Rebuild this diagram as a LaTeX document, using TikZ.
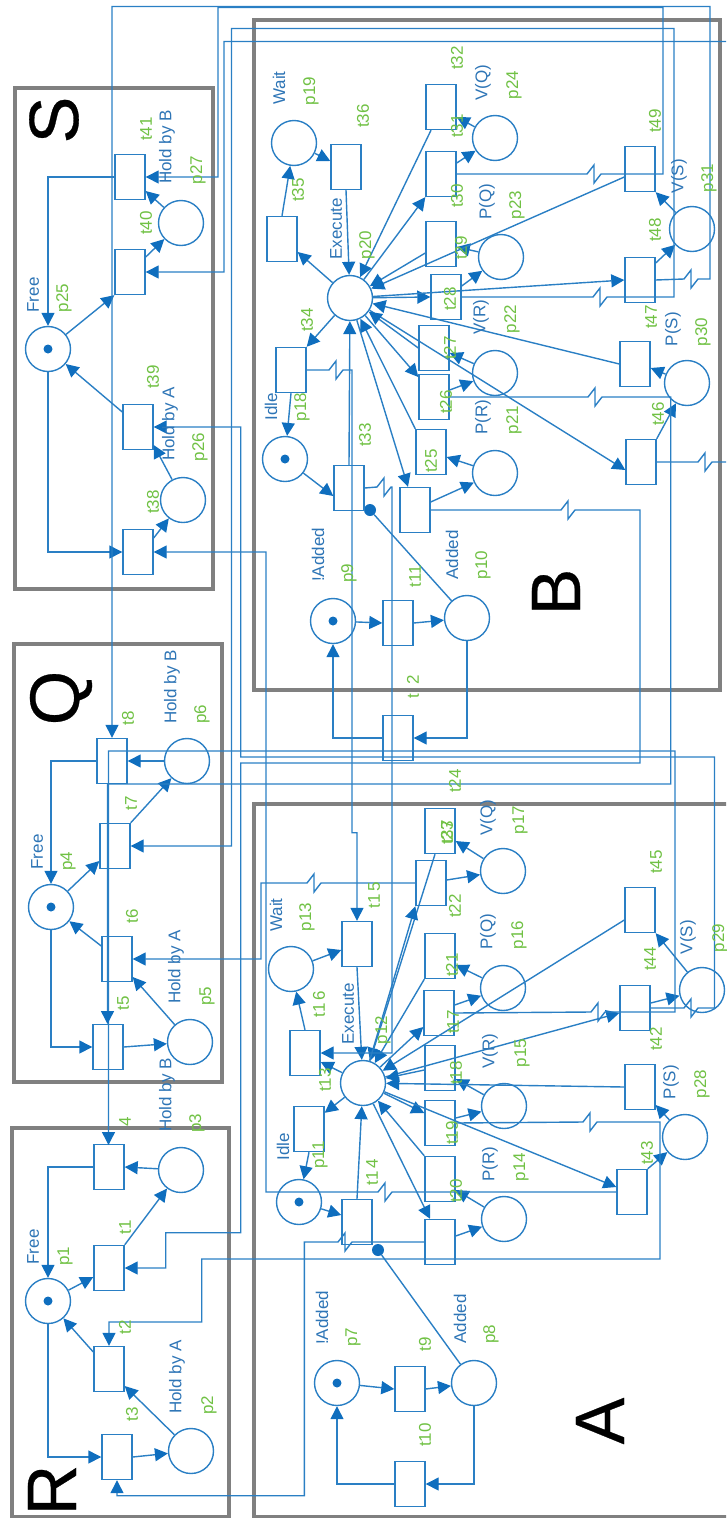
\documentclass[tikz,border=0pt]{standalone}
\usepackage{fontspec}
\setmainfont{Liberation Sans}
\usetikzlibrary{arrows.meta}
\definecolor{net}{HTML}{2A7FC4}
\definecolor{head}{HTML}{0F6EBE}
\definecolor{lblue}{HTML}{2E75B6}
\definecolor{lgreen}{HTML}{70C144}
\definecolor{frame}{HTML}{808080}
\tikzset{
  place/.style={circle,draw=net,line width=1.4pt,minimum size=45pt,inner sep=0pt},
  trans/.style={rectangle,draw=net,line width=1.4pt,minimum width=30pt,minimum height=45pt,inner sep=0pt},
  token/.style={circle,fill=head,minimum size=9pt,inner sep=0pt},
  rdot/.style={circle,fill=head,minimum size=12pt,inner sep=0pt},
  arc/.style={draw=net,line width=1.4pt,-{Triangle[length=13pt,width=13pt,color=head]}},
  wire/.style={draw=net,line width=1.4pt},
  box/.style={draw=frame,line width=3.5pt},
  lbl/.style={rotate=90,inner sep=0pt,font=\fontsize{17}{17}\selectfont},
  big/.style={rotate=90,inner sep=0pt,font=\fontsize{70}{70}\selectfont\addfontfeature{FakeBold=0.4},text=black}
}
\newcommand\bl[3]{\node[lbl,text=lblue] (lb#1x#2) at (#1,#2) {#3};}
\newcommand\gr[3]{\node[lbl,text=lgreen] (lg#1x#2) at (#1,#2) {#3};}
\newcommand\pl[3]{\node[place] (#1) at (#2,#3) {};}
\newcommand\tr[3]{\node[trans] (#1) at (#2,#3) {};}
\newcommand\hjag[2]{-- ({#1-7},#2) -- (#1,{#2-9}) -- (#1,{#2+9}) -- ({#1+7},#2)}
\newcommand\ljag[2]{-- ({#1+7},#2) -- (#1,{#2+9}) -- (#1,{#2-9}) -- ({#1-7},#2)}
\begin{document}
\begin{tikzpicture}[x=1pt,y=-1pt]
\useasboundingbox (0,0) rectangle (726,1518);
\clip (0,0) rectangle (726,1518);
% frames
\draw[box] (15,88) rectangle (213,589);
\draw[box] (14,644) rectangle (222,1082);
\draw[box] (12,1128) rectangle (229,1517);
\draw[box] (254,20) rectangle (720,690);
\draw[box] (254,804) rectangle (760,1517);
\node[big] (letS) at (54,120) {S};
\node[big] (letQ) at (61,698) {Q};
\node[big] (letR) at (52,1490) {R};
\node[big] (letB) at (556,592) {B};
\node[big] (letA) at (600,1421) {A};
% places
\pl{p25}{48}{349}\pl{p27}{181}{223}\pl{p26}{183}{500}
\pl{p6}{187}{761}\pl{p4}{51}{907}\pl{p5}{190}{1042}
\pl{p3}{181}{1170}\pl{p1}{48}{1301}\pl{p2}{191}{1451}
\pl{p19}{294}{143}\pl{p20}{350}{298}\pl{p18}{285}{459}\pl{p9}{333}{621}\pl{p10}{467}{618}
\pl{p21}{495}{473}\pl{p22}{495}{373}\pl{p23}{501}{257}\pl{p24}{495}{138}\pl{p31}{692}{229}\pl{p30}{687}{383}
\pl{p13}{291}{969}\pl{p12}{363}{1083}\pl{p11}{299}{1202}\pl{p7}{337}{1383}\pl{p8}{474}{1383}
\pl{p14}{504}{1219}\pl{p15}{504}{1106}\pl{p16}{503}{988}\pl{p17}{503}{871}\pl{p29}{702}{990}\pl{p28}{685}{1137}
\foreach \q in {p25,p4,p1,p18,p9,p11,p7}{\node[token] (tok\q) at (\q) {};}
\node[rdot] (dotb) at (370,510) {};
\node[rdot] (dota) at (378,1250) {};
% transitions
\tr{t41}{130}{177}\tr{t40}{130}{272}\tr{t39}{138}{427}\tr{t38}{138}{552}
\tr{t8}{112}{761}\tr{t7}{115}{846}\tr{t6}{117}{959}\tr{t5}{108}{1047}
\tr{t4}{109}{1167}\tr{t1}{109}{1268}\tr{t2}{109}{1369}\tr{t3}{117}{1457}
\tr{t36}{346}{167}\tr{t35}{282}{239}\tr{t34}{291}{370}\tr{t33}{349}{488}
\tr{t32}{441}{107}\tr{t31}{441}{174}\tr{t29}{441}{244}\tr{t28}{446}{297}
\tr{t27}{434}{348}\tr{t26}{434}{397}\tr{t25}{431}{452}\tr{t24}{415}{510}
\tr{t11}{398}{623}\tr{t12}{398}{738}
\tr{t49}{640}{169}\tr{t48}{640}{280}\tr{t47}{635}{364}\tr{t46}{641}{462}
\tr{t15}{357}{944}\tr{t16}{305}{1053}\tr{t13}{309}{1129}\tr{t14}{357}{1222}
\tr{t9}{410}{1389}\tr{t10}{410}{1484}
\tr{t23}{440}{831}\tr{t22}{431}{883}\tr{t21}{440}{956}\tr{t17}{439}{1013}
\tr{t18}{440}{1068}\tr{t19}{440}{1123}\tr{t20}{440}{1179}\tr{t37}{440}{1242}
\tr{t45}{640}{910}\tr{t44}{635}{1008}\tr{t42}{640}{1087}\tr{t43}{632}{1192}
% S
\draw[arc] (p25) -- (t40.south west);
\draw[arc] (t41.west) -| (p25);
\draw[arc] (p27) -- ([yshift=-14pt]t41.east);
\draw[arc] ([yshift=15pt]t40.east) -- (p27);
\draw[arc] (p25) |- (t38.west);
\draw[arc] (p26) -- ([yshift=-18pt]t39.east);
\draw[arc] ([yshift=14pt]t38.east) -- (p26);
\draw[arc] ([yshift=15pt]t39.west) -- (p25);
% Q
\draw[arc] (p6) -- (t8.east);
\draw[arc] (t8.west) -| (p4);
\draw[arc] (t7.north east) -- (p6);
\draw[arc] (p4) -- ([yshift=-15pt]t7.west);
\draw[arc] ([yshift=13pt]t6.west) -- (p4);
\draw[arc] (p5) -- ([yshift=-18pt]t6.east);
\draw[arc] (t5.east) -- (p5);
\draw[arc] (p4) |- (t5.west);
% R
\draw[arc] (t4.west) -| (p1);
\draw[arc] (p3) -- (t4.east);
\draw[arc] (t1.north east) -- (p3);
\draw[arc] (p1) -- ([yshift=-9pt]t1.west);
\draw[arc] ([yshift=17pt]t2.west) -- (p1);
\draw[arc] (p2) -- ([yshift=-17pt]t2.east);
\draw[arc] (p1) |- (t3.west);
\draw[arc] (t3.east) -- (p2);
% B local
\draw[arc] (p19) -- ([yshift=6pt]t36.west);
\draw[arc] (t36.south) -- (p20);
\draw[arc] (t35.north) -- (p19);
\draw[arc] (p20) -- ([yshift=-13pt]t35.east);
\draw[arc] (p20) -- (t34.north east);
\draw[arc] (t34.south) -- (p18);
\draw[arc] (p18) -- ([yshift=-8pt]t33.west);
\draw[arc] (t33.north) -- (p20);
\draw[wire] (p10) -- (dotb);
\draw[arc] (p9) -- (t11.west);
\draw[arc] (t11.east) -- (p10);
\draw[arc] (p10) |- (t12.east);
\draw[arc] (t12.west) -| (p9);
% B fan
\draw[arc] ([xshift=-10pt]t32.south) -- (p20);
\draw[arc] (p20) -- (t31.south west);
\draw[arc] (p24) -- ([yshift=-10pt]t32.east);
\draw[arc] ([yshift=11pt]t31.east) -- (p24);
\draw[arc] ([yshift=-9pt]t29.west) -- (p20);
\draw[arc] (p23) -- ([yshift=-3pt]t29.east);
\draw[arc] ([yshift=11pt]t28.east) -- (p23);
\draw[arc] (p20) -- (t28.west);
\draw[arc] (p20) -- (t48.west);
\draw[arc] ([yshift=-8pt]t49.west) -- (p20);
\draw[arc] (p31) -- (t49.south east);
\draw[arc] ([yshift=17pt]t48.east) -- (p31);
\draw[arc] (t47.west) -- (p20);
\draw[arc] (p30) -- ([yshift=-4pt]t47.east);
\draw[arc] (p20) -- ([yshift=-8pt]t46.west);
\draw[arc] (t46.north east) -- (p30);
\draw[arc] (t27.west) -- (p20);
\draw[arc] (p22) -- ([yshift=-5pt]t27.east);
\draw[arc] (p20) -- ([yshift=20pt]t26.west);
\draw[arc] ([yshift=7pt]t26.east) -- (p22);
\draw[arc] (p21) -- ([yshift=-5pt]t25.east);
\draw[arc] (t25.north west) -- (p20);
\draw[arc] (p20) -- ([xshift=-7pt]t24.north);
\draw[arc] ([yshift=8pt]t24.east) -- (p21);
% A local
\draw[arc] (p13) -- ([yshift=-6pt]t15.west);
\draw[arc] (t15.south) -- (p12);
\draw[arc] (t16.north) -- (p13);
\draw[arc] (p12) -- ([yshift=-9pt]t16.east);
\draw[arc] (p12) -- ([yshift=-7pt]t13.north east);
\draw[arc] (t13.south) -- (p11);
\draw[arc] (p11) -- ([yshift=7pt]t14.west);
\draw[arc] (t14.north) -- (p12);
\draw[wire] (p8) -- (dota);
\draw[arc] (p7) -- (t9.west);
\draw[arc] (t9.east) -- (p8);
\draw[arc] (p8) |- (t10.east);
\draw[arc] (t10.west) -| (p7);
% A fan
\draw[arc] ([xshift=-5pt]t23.south) -- (p12);
\draw[arc] (p17) -- ([yshift=-10pt]t23.east);
\draw[arc] ([yshift=3pt]t22.east) -- (p17);
\draw[arc] (p12) -- (t22.south west);
\draw[arc] (t21.south west) -- (p12);
\draw[arc] (p16) -- ([yshift=-9pt]t21.east);
\draw[arc] ([yshift=8pt]t17.east) -- (p16);
\draw[arc] (p12) -- ([yshift=-14pt]t17.west);
\draw[arc] ([yshift=-10pt]t45.west) -- (p12);
\draw[arc] (p29) -- (t45.south east);
\draw[arc] ([yshift=5pt]t44.east) -- (p29);
\draw[arc] (p12) -- ([yshift=-5pt]t44.west);
\draw[arc] ([yshift=-2pt]t18.west) -- (p12);
\draw[arc] (p15) -- ([yshift=-11pt]t18.east);
\draw[arc] (t42.west) -- (p12);
\draw[arc] (p28) -- ([yshift=-18pt]t42.east);
\draw[arc] ([yshift=5pt]t19.east) -- (p15);
\draw[arc] (p12) -- ([yshift=10pt]t19.west);
\draw[arc] (p12) -- ([yshift=5pt]t43.west);
\draw[arc] (t43.north east) -- (p28);
\draw[arc] (t20.north west) -- (p12);
\draw[arc] (p14) -- ([yshift=-11pt]t20.east);
\draw[arc] (p12) -- ([xshift=-10pt]t37.north);
\draw[arc] ([yshift=6pt]t37.east) -- (p14);
% long connectors
\draw[arc] (t31.east) \hjag{594}{174} -- (663,174) -- (663,7.5) -- (218,7.5) -- (218,177) -- (t41.east);
\draw[arc] (t48.east) \hjag{691}{279} -- (710,279) -- (710,6.5) -- (112,6.5) -- (t8.north);
\draw[arc] (t28.east) \hjag{600}{297} -- (674,297) -- (674,28.5) -- (231.5,28.5) -- (231.5,846) -- (t7.east);
\draw[arc] (t46.east) \hjag{705}{462} -- (735,462) -- (735,41.5) -- (224,41.5) -- (224,272) -- (t40.east);
\draw[arc] (t43.west) \ljag{385}{1192} -- (266,1192) -- (266,552) -- (t38.east);
\draw[arc] (t44.east) \hjag{691}{1008} -- (714.5,1008) -- (714.5,757) -- (240.7,757) -- (240.7,427) -- (t39.east);
\draw[arc] (t24.east) \hjag{568}{510} -- (640,510) -- (640,763) -- (240.7,763) -- (240.7,1232.7) -- (165.7,1232.7) -- (165.7,1268) -- (t1.east);
\draw[arc] (t17.east) \hjag{598}{1012} -- (675,1012) -- (675,751) -- (108.5,751) -- (108.5,1145);
\draw[arc] (t26.east) \hjag{595}{397} -- (670.7,397) -- (670.7,784) -- (107.5,784) -- (107.5,1024);
\draw[arc] (t22.west) \ljag{314}{883} -- (261,883) -- (261,959) -- (t6.east);
\draw[arc] (t19.east) \hjag{590}{1122} -- (660,1122) -- (660,1259) -- (201.7,1259) -- (201.7,1322) -- (109,1322) -- (t2.north);
\draw[arc] (t37.west) \ljag{345}{1242} -- (304.3,1242) -- (304.3,1495.7) -- (117,1495.7) -- (t3.south);
\draw[arc] (t33.east) \hjag{384}{487} -- (392,487) -- (392,1053) -- (t16.east);
\draw[arc] (t34.east) \hjag{336}{370} -- (352,370) -- (352,832.7) -- (357,832.7) -- (t15.north);
% labels S
\bl{33}{295}{Free}\gr{64}{298}{p25}\gr{146}{129}{t41}\bl{167}{147}{Hold by B}\gr{198}{170}{p27}\gr{146}{223}{t40}
\gr{153}{377}{t39}\bl{170}{424}{Hold by A}\gr{200}{447}{p26}\gr{153}{502}{t38}
% Q
\bl{172}{687}{Hold by B}\gr{202}{714}{p6}\gr{128}{718}{t8}\bl{37}{852}{Free}\gr{68}{861}{p4}\gr{131}{803}{t7}\gr{132}{916}{t6}
\bl{176}{967}{Hold by A}\gr{207}{996}{p5}\gr{123}{1003}{t5}
% R
\bl{167}{1095}{Hold by B}\gr{197}{1123}{p3}\gr{125}{1122}{4}\bl{33}{1247}{Free}\gr{65}{1256}{p1}\gr{125}{1227}{t1}\gr{125}{1327}{t2}
\bl{177}{1377}{Hold by A}\gr{209}{1405}{p2}\gr{132}{1414}{t3}
% B
\bl{279}{88}{Wait}\gr{311}{91}{p19}\gr{363}{116}{t36}\gr{298}{190}{t35}\bl{336}{229}{Execute}\gr{367}{245}{p20}\gr{307}{320}{t34}
\bl{271}{407}{Idle}\gr{302}{407}{p18}\gr{365}{435}{t33}\bl{318}{555}{!Added}\gr{349}{573}{p9}\bl{452}{555}{Added}\gr{483}{565}{p10}
\gr{415}{576}{t11}\gr{413}{687}{t\hspace{9.5pt}2}
\gr{457}{58}{t32}\bl{483}{83}{V(Q)}\gr{514}{85}{p24}\gr{457}{126}{t31}\gr{457}{196}{t30}\bl{487}{202}{P(Q)}\gr{517}{205}{p23}
\gr{461}{248}{t29}\gr{450}{299}{t28}\bl{481}{317}{V(R)}\gr{512}{319}{p22}\gr{450}{348}{t27}\gr{446}{402}{t26}
\bl{483}{417}{P(R)}\gr{514}{420}{p21}\gr{431}{461}{t25}
\gr{655}{121}{t49}\bl{679}{176}{V(S)}\gr{709}{178}{p31}\gr{655}{230}{t48}\gr{651}{317}{t47}\bl{673}{329}{P(S)}\gr{703}{332}{p30}\gr{658}{414}{t46}
% A
\bl{276}{915}{Wait}\gr{307}{917}{p13}\gr{374}{895}{t1\,5}\bl{348}{1014}{Execute}\gr{383}{1030}{p12}\gr{319}{1004}{t1\,6}\gr{325}{1080}{t13}
\bl{283}{1147}{Idle}\gr{320}{1155}{p11}\gr{372}{1172}{t1\,4}\bl{322}{1318}{!Added}\gr{353}{1337}{p7}\bl{460}{1319}{Added}\gr{491}{1334}{p8}
\gr{425}{1344}{t9}\gr{425}{1435}{t10}
\gr{455}{781}{t24}\bl{488}{818}{V(Q)}\gr{520}{820}{p17}\gr{447}{833}{t23}\gr{447}{832}{t37}\gr{455}{906}{t22}\bl{488}{932}{P(Q)}\gr{519}{935}{p16}
\gr{452}{965}{t21}\gr{453}{1022}{t17}\bl{490}{1051}{V(R)}\gr{522}{1053}{p15}\gr{456}{1073}{t18}\gr{452}{1133}{t19}\gr{456}{1191}{t20}
\bl{490}{1164}{P(R)}\gr{521}{1167}{p14}\gr{656}{862}{t45}\gr{650}{959}{t44}\bl{688}{937}{V(S)}\gr{720}{938}{p29}\gr{656}{1039}{t42}
\bl{671}{1082}{P(S)}\gr{702}{1084}{p28}\gr{647}{1153}{t43}
\end{tikzpicture}
\end{document}
